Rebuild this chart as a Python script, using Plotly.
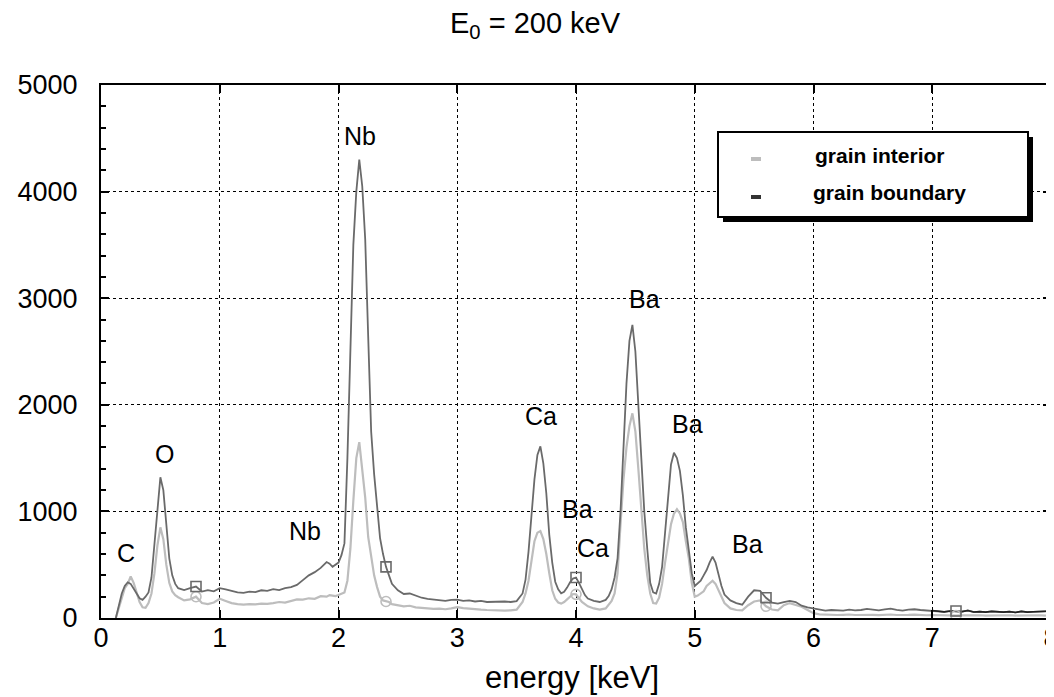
import plotly.graph_objects as go

# ---------------- data ----------------
energy = [
    0.125, 0.15, 0.175, 0.2, 0.225, 0.25, 0.275, 0.3, 0.325, 0.35, 0.375, 0.4, 0.425, 0.45, 0.475, 0.5, 0.525, 0.55, 0.575, 0.6, 0.625, 0.65,
    0.7, 0.75, 0.8, 0.85, 0.9, 0.95, 1.0, 1.05, 1.1, 1.15, 1.2, 1.25, 1.3, 1.35, 1.4, 1.45, 1.5, 1.55, 1.6, 1.65, 1.7, 1.75, 1.8, 1.85, 1.9,
    1.925, 1.95, 1.975, 2.0, 2.025, 2.05, 2.075, 2.1, 2.125, 2.15, 2.175, 2.2, 2.225, 2.25, 2.275, 2.3, 2.325, 2.35, 2.375, 2.4, 2.425, 2.45,
    2.5, 2.55, 2.6, 2.65, 2.7, 2.75, 2.8, 2.85, 2.9, 2.95, 3.0, 3.05, 3.1, 3.15, 3.2, 3.25, 3.3, 3.35, 3.4, 3.45, 3.5, 3.55,
    3.575, 3.6, 3.625, 3.65, 3.675, 3.7, 3.725, 3.75, 3.775, 3.8, 3.825, 3.85, 3.875, 3.9, 3.925, 3.95, 3.975, 4.0, 4.025, 4.05, 4.075, 4.1,
    4.15, 4.2, 4.25,
    4.275, 4.3, 4.325, 4.35, 4.375, 4.4, 4.425, 4.45, 4.475, 4.5, 4.525, 4.55, 4.575, 4.6, 4.625, 4.65, 4.675, 4.7, 4.725, 4.75,
    4.775, 4.8, 4.825, 4.85, 4.875, 4.9, 4.925, 4.95, 4.975, 5.0, 5.025, 5.05, 5.075, 5.1, 5.125, 5.15, 5.175, 5.2, 5.225, 5.25,
    5.3, 5.35, 5.4, 5.45, 5.5, 5.55, 5.6, 5.65, 5.7, 5.75, 5.8, 5.85, 5.9, 5.95, 6.0, 6.05, 6.1, 6.15, 6.2, 6.25,
    6.3, 6.35, 6.4, 6.45, 6.5, 6.55, 6.6, 6.65, 6.7, 6.75, 6.8, 6.85, 6.9, 6.95, 7.0, 7.05, 7.1, 7.15, 7.2, 7.25,
    7.3, 7.35, 7.4, 7.45, 7.5, 7.55, 7.6, 7.65, 7.7, 7.75, 7.8, 7.85, 7.9, 7.95, 8.0,
]

grain_boundary = [
    0, 110, 230, 300, 335, 320, 280, 230, 185, 170, 200, 240, 380, 700, 1080, 1320, 1200, 880, 560, 400, 320, 280,
    262, 280, 295, 248, 262, 250, 280, 268, 255, 240, 235, 248, 242, 260, 255, 270, 262, 280, 290, 310, 355, 400, 430, 470, 525,
    510, 480, 500, 520, 590, 700, 1500, 2500, 3500, 4000, 4300, 4050, 3550, 2640, 1750, 1350, 1020, 750, 600, 480, 400, 320,
    260, 225, 230, 210, 190, 180, 175, 165, 160, 170, 172, 160, 165, 155, 160, 150, 152, 148, 155, 150, 158, 230,
    360, 620, 980, 1300, 1530, 1610, 1450, 1170, 780, 520, 340, 270, 232, 245, 285, 335, 370, 380, 330, 270, 215, 182,
    160, 150, 170,
    205, 270, 380, 560, 1000, 1650, 2200, 2600, 2750, 2500, 2000, 1500, 1000, 650, 330, 240, 230, 320, 480, 800,
    1150, 1440, 1550, 1500, 1380, 1150, 850, 650, 420, 300, 330, 350, 400, 450, 520, 575, 520, 400, 300, 220,
    165, 140, 125, 200, 260, 255, 190, 145, 135, 150, 160, 150, 115, 100, 90, 80, 70, 75, 72, 70,
    78, 72, 75, 85, 78, 72, 80, 88, 76, 70, 78, 82, 75, 72, 70, 62, 58, 65, 66, 60,
    70, 56, 60, 55, 62, 58, 55, 60, 52, 62, 55, 58, 60, 56, 65,
]

grain_interior = [
    0, 90, 200, 280, 320, 390, 330, 240, 150, 100, 95, 140, 230, 420, 680, 850, 740, 500, 330, 250, 215, 195,
    165, 175, 200, 140, 130, 145, 180, 160, 140, 130, 125, 130, 128, 135, 132, 140, 150, 145, 160, 175, 172, 185, 180, 205, 200,
    215, 210, 205, 215, 225, 240, 350, 650, 1100, 1500, 1650, 1400, 1130, 760, 560, 400, 290, 200, 165, 155, 150, 130,
    118, 110, 115, 100, 95, 90, 85, 88, 82, 90, 102, 92, 85, 80, 78, 75, 72, 75, 70, 72, 78, 150,
    230, 350, 520, 720, 800, 815, 740, 600, 420, 260, 180, 145, 135, 150, 175, 205, 225, 222, 190, 150, 130, 110,
    90, 78, 90,
    120, 160, 230, 420, 880, 1300, 1600, 1800, 1920, 1750, 1400, 1050, 650, 400, 230, 140, 135, 190, 320, 520,
    700, 880, 980, 1020, 980, 900, 720, 560, 330, 200, 210, 230, 250, 300, 330, 350, 320, 260, 200, 140,
    90, 75, 72, 120, 155, 165, 110, 80, 72, 120, 140, 120, 105, 75, 45, 34, 30, 32, 28, 30,
    33, 28, 30, 32, 29, 27, 30, 33, 28, 26, 29, 31, 27, 26, 28, 25, 27, 24, 22, 25,
    27, 24, 26, 23, 25, 27, 24, 26, 23, 25, 27, 24, 26, 23, 25,
]

marker_energy = [0.8, 2.4, 4.0, 5.6, 7.2]

peak_labels = ["C", "O", "Nb", "Nb", "Ca", "Ba", "Ba", "Ba", "Ca", "Ba"]
label_energy = [0.21, 0.536, 1.715, 2.185, 3.707, 4.58, 4.94, 4.015, 4.14, 5.446]
label_counts = [614, 1536, 818, 4523, 1897, 2997, 1818, 1021, 661, 692]

series_names = ["grain interior", "grain boundary"]

# ---------------- styling ----------------
DARK = "#6a6a6a"
LIGHT = "#bdbdbd"
FONT = "Liberation Sans, Arial, sans-serif"

idx = [energy.index(e) for e in marker_energy]
tail = [i for i, e in enumerate(energy) if e >= 7.0]

fig = go.Figure()
fig.add_trace(go.Scatter(x=energy, y=grain_interior, mode="lines",
                         line=dict(color=LIGHT, width=2.2), name=series_names[0], showlegend=False))
fig.add_trace(go.Scatter(x=energy, y=grain_boundary, mode="lines",
                         line=dict(color=DARK, width=1.8), name=series_names[1], showlegend=False))
fig.add_trace(go.Scatter(x=[energy[i] for i in tail], y=[grain_boundary[i] for i in tail], mode="lines",
                         line=dict(color="#222222", width=1.6), showlegend=False, hoverinfo="skip"))
fig.add_trace(go.Scatter(x=[energy[i] for i in idx], y=[grain_interior[i] for i in idx], mode="markers",
                         marker=dict(symbol="circle-open", size=10, color=LIGHT, line=dict(width=1.6)),
                         showlegend=False))
fig.add_trace(go.Scatter(x=[energy[i] for i in idx], y=[grain_boundary[i] for i in idx], mode="markers",
                         marker=dict(symbol="square-open", size=10, color=DARK, line=dict(width=1.6)),
                         showlegend=False))

for t, e, c in zip(peak_labels, label_energy, label_counts):
    fig.add_annotation(x=e, y=c, text=t, showarrow=False,
                       font=dict(family=FONT, size=25, color="black"),
                       xanchor="center", yanchor="middle")

# ---- legend box drawn with shapes (pixel -> paper) ----
L, R, T, B = 93, 1043, 77, 610
def px(xp):
    return (xp - L) / (R - L)
def py(yp):
    return (B - yp) / (B - T)

fig.add_shape(type="rect", xref="paper", yref="paper", x0=px(715), x1=px(1025), y0=py(214), y1=py(129),
              fillcolor="black", line=dict(width=0), layer="above")
fig.add_shape(type="rect", xref="paper", yref="paper", x0=px(710), x1=px(1020), y0=py(209), y1=py(124),
              fillcolor="white", line=dict(color="black", width=2), layer="above")
fig.add_shape(type="line", xref="paper", yref="paper", x0=px(743), x1=px(753), y0=py(151), y1=py(151),
              line=dict(color=LIGHT, width=4), layer="above")
fig.add_shape(type="line", xref="paper", yref="paper", x0=px(743), x1=px(753), y0=py(189), y1=py(189),
              line=dict(color="#333333", width=4), layer="above")
fig.add_annotation(xref="paper", yref="paper", x=px(805), y=py(147), text="<b>%s</b>" % series_names[0],
                   showarrow=False, xanchor="left", yanchor="middle",
                   font=dict(family=FONT, size=21, color="black"))
fig.add_annotation(xref="paper", yref="paper", x=px(803), y=py(184), text="<b>%s</b>" % series_names[1],
                   showarrow=False, xanchor="left", yanchor="middle",
                   font=dict(family=FONT, size=21, color="black"))

# x-axis title placed precisely
fig.add_annotation(xref="paper", yref="paper", x=px(564), y=py(669), text="energy [keV]",
                   showarrow=False, xanchor="center", yanchor="middle",
                   font=dict(family=FONT, size=31, color="black"))

axis_common = dict(
    showline=True, linecolor="black", linewidth=2, mirror="allticks",
    ticks="inside", ticklen=8, tickwidth=1.5, tickcolor="black",
    showgrid=True, gridcolor="black", griddash="dot", gridwidth=1.2,
    zeroline=False, automargin=False,
    tickfont=dict(family=FONT, size=27, color="black"),
)

fig.update_layout(
    width=1054, height=697,
    margin=dict(l=L, r=1054 - R, t=T, b=697 - B),
    paper_bgcolor="white", plot_bgcolor="white",
    showlegend=False,
    title=dict(text="E<sub>0</sub> = 200 keV", x=0.5, xref="container", xanchor="center",
               y=1 - 5 / 697, yref="container", yanchor="top",
               font=dict(family=FONT, size=29, color="black")),
    xaxis=dict(range=[0, 8], dtick=1, tick0=0, ticklabelstandoff=-5, **axis_common),
    yaxis=dict(range=[0, 5000], dtick=1000, tick0=0, ticklabelstandoff=16,
               minor=dict(dtick=200, ticks="inside", ticklen=5, tickcolor="black", showgrid=False),
               **axis_common),
)

fig.write_html("out.html")
